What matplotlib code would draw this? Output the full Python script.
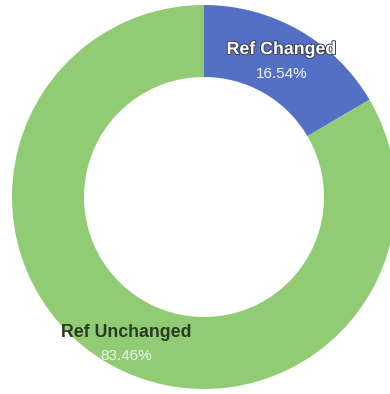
import matplotlib.pyplot as plt
import matplotlib.patheffects as pe
import numpy as np

plt.rcParams["font.family"] = "sans-serif"
plt.rcParams['font.sans-serif'] = ['Liberation Sans']

labels = ['Ref Changed', 'Ref Unchanged']
shares = [16.54, 83.46]
colors = ['#5470c6', '#91cc75']
name_colors = ['white', '#2a3a22']
pct_colors = ['#f4f6ff', '#eef6e8']
# vertical shift of each text block (name line, data units)
name_shift = [0.0625, 0.0]

fig = plt.figure(figsize=(3.90, 3.94), dpi=100)
ax = fig.add_axes([12/390, 5/394, 384/390, 384/394])

ring_w = 0.375
ax.pie(shares, colors=colors, startangle=90, counterclock=False, radius=1.0,
       wedgeprops=dict(width=ring_w, edgecolor='none'))

mid_r = 1.0 - ring_w/2
start = 0.0
for i, (lab, v) in enumerate(zip(labels, shares)):
    mid = start + v/2
    ang = np.deg2rad(90 - 360*mid/100)
    x, y = mid_r*np.cos(ang), mid_r*np.sin(ang)
    y0 = y + name_shift[i]
    t = ax.text(x, y0, lab, ha='center', va='center', fontsize=12.8,
                fontweight='bold', color=name_colors[i])
    if i == 0:
        t.set_path_effects([pe.withStroke(linewidth=1.4, foreground='#3a3f55')])
    ax.text(x, y0 - 0.125, '{:.2f}%'.format(v), ha='center', va='center',
            fontsize=11, color=pct_colors[i])
    start += v

ax.set_xlim(-1, 1)
ax.set_ylim(-1, 1)
ax.set_aspect('equal')
ax.axis('off')

plt.savefig('out.png', dpi=100)
